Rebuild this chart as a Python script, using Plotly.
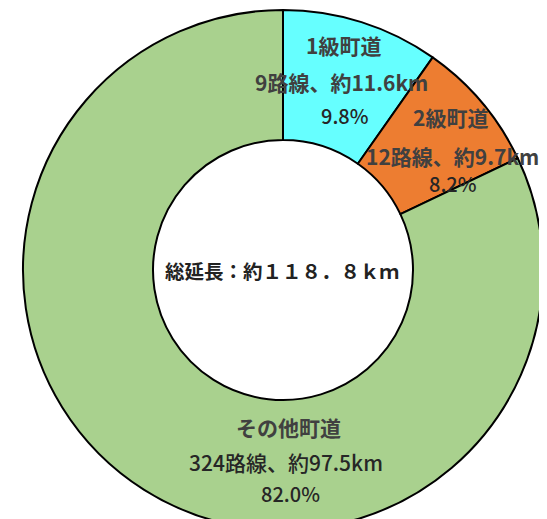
import plotly.graph_objects as go

# ---- data ----
categories = ["1級町道", "2級町道", "その他町道"]
routes = [9, 12, 324]
lengths_km = [11.6, 9.7, 97.5]
percent_labels = ["9.8%", "8.2%", "82.0%"]
colors = ["#66FFFF", "#ED7D31", "#A9D18E"]

W, H = 547, 530
OFF = 8  # default page body margin

total = round(sum(lengths_km), 1)
fw = str.maketrans("0123456789.", "０１２３４５６７８９．")
center_text = "総延長：約" + f"{total:.1f}".translate(fw) + "ｋｍ"

# pie centre / radius in screen pixels
CX, CY, R = 283, 270, 260
fx0, fx1 = CX - R - OFF, CX + R - OFF
fy0, fy1 = CY - R - OFF, CY + R - OFF  # from top

fig = go.Figure(
    go.Pie(
        labels=categories,
        values=lengths_km,
        marker=dict(colors=colors, line=dict(color="#000000", width=2)),
        hole=0.5,
        sort=False,
        direction="clockwise",
        rotation=0,
        textinfo="none",
        showlegend=False,
        domain=dict(x=[fx0 / W, fx1 / W], y=[1 - fy1 / H, 1 - fy0 / H]),
    )
)

FONT = "Noto Sans CJK JP"


def px(x, y):
    return (x - OFF) / W, 1 - (y - OFF) / H


# label anchor positions (screen pixels): title line, detail line, percentage line
label_pos = [
    [(343, 45), (341, 82), (345, 116)],
    [(450, 117), (452, 156), (453, 183)],
    [(288, 427), (286, 462), (290, 493)],
]

ann = []
for i, cat in enumerate(categories):
    detail = f"{routes[i]}路線、約{lengths_km[i]}km"
    lines = [
        (cat, 21, 700, "#404040"),
        (detail, 21, 700 if i < 2 else 500, "#404040" if i < 2 else "#262626"),
        (percent_labels[i], 20, 500, "#262626"),
    ]
    for (t, s, wgt, col), (x, y) in zip(lines, label_pos[i]):
        ax, ay = px(x, y)
        ann.append(dict(x=ax, y=ay, xref="paper", yref="paper", text=t, showarrow=False,
                        xanchor="center", yanchor="middle",
                        font=dict(family=FONT, size=s, color=col, weight=wgt)))

cx, cy = px(282, 270)
ann.append(dict(x=cx, y=cy, xref="paper", yref="paper", text=center_text,
                showarrow=False, xanchor="center", yanchor="middle",
                font=dict(family=FONT, size=19.5, color="#222222", weight=700)))

fig.update_layout(
    width=W, height=H,
    margin=dict(l=0, r=0, t=0, b=0),
    paper_bgcolor="white", plot_bgcolor="white",
    annotations=ann,
)

fig.write_html("out.html")
